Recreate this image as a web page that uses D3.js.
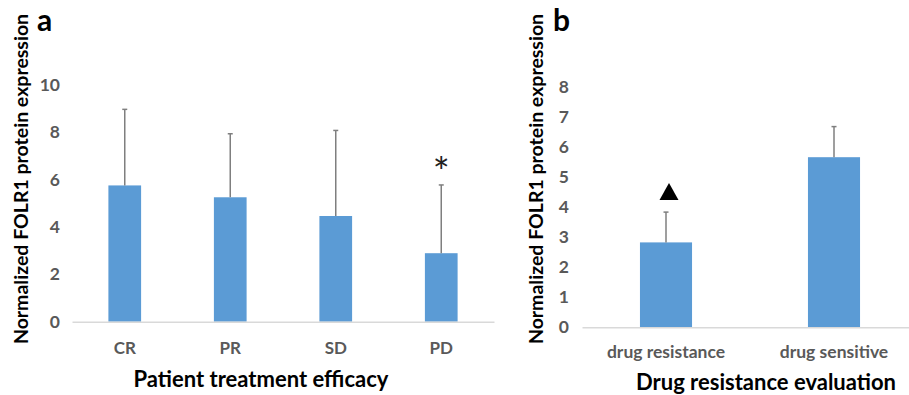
<!DOCTYPE html>
<html>
<head>
<meta charset="utf-8">
<script src="https://cdn.jsdelivr.net/npm/d3@7/dist/d3.min.js"></script>
<style>
  html, body { margin: 0; padding: 0; background: #fff; }
  svg { display: block; }
  text { font-family: Lato, "Open Sans", sans-serif; }
</style>
</head>
<body>
<svg id="chart" width="909" height="395"></svg>
<script>
// Panel a: FOLR1 expression by treatment efficacy
const efficacyCategories = ["CR", "PR", "SD", "PD"];
const efficacyMeans = [5.75, 5.25, 4.46, 2.89];
const efficacyErrors = [3.21, 2.68, 3.61, 2.88];
const efficacyTicks = [0, 2, 4, 6, 8, 10];

// Panel b: FOLR1 expression by drug response
const resistanceCategories = ["drug resistance", "drug sensitive"];
const resistanceMeans = [2.83, 5.67];
const resistanceErrors = [1.01, 1.02];
const resistanceTicks = [0, 1, 2, 3, 4, 5, 6, 7, 8];

const BAR = "#5b9bd5";
const AXIS = "#d9d9d9";
const TICK_TEXT = "#595959";
const ERR = "#7f7f7f";

const svg = d3.select("#chart");

function drawPanel(cfg) {
  const g = svg.append("g");
  const x = d3.scaleBand()
    .domain(cfg.categories)
    .range([cfg.x0, cfg.x1])
    .paddingInner(0.69)
    .paddingOuter(0.345);
  const y = d3.scaleLinear().domain(cfg.yDomain).range([cfg.y0, cfg.yTop]);

  // y tick labels (no axis line, no tick marks)
  const yAxis = d3.axisLeft(y).tickValues(cfg.ticks).tickSize(0).tickPadding(0);
  const ya = g.append("g").attr("transform", `translate(${cfg.tickRight},0)`).call(yAxis);
  ya.select(".domain").remove();
  ya.selectAll("text")
    .attr("fill", TICK_TEXT)
    .attr("font-size", cfg.tickSize)
    .attr("font-weight", "bold")
    .attr("font-family", "Lato, sans-serif");

  // bars
  const data = cfg.categories.map((c, i) => ({ c, v: cfg.means[i], e: cfg.errors[i] }));
  g.selectAll("rect.bar").data(data).join("rect")
    .attr("class", "bar")
    .attr("x", d => x(d.c))
    .attr("width", x.bandwidth())
    .attr("y", d => y(d.v))
    .attr("height", d => y(0) - y(d.v))
    .attr("fill", BAR);

  // upper error bars
  const cx = d => x(d.c) + x.bandwidth() / 2;
  g.selectAll("line.err").data(data).join("line")
    .attr("class", "err")
    .attr("x1", cx).attr("x2", cx)
    .attr("y1", d => y(d.v)).attr("y2", d => y(d.v + d.e))
    .attr("stroke", ERR).attr("stroke-width", 1.5);
  g.selectAll("line.cap").data(data).join("line")
    .attr("class", "cap")
    .attr("x1", d => cx(d) - 2.5).attr("x2", d => cx(d) + 2.5)
    .attr("y1", d => y(d.v + d.e)).attr("y2", d => y(d.v + d.e))
    .attr("stroke", ERR).attr("stroke-width", 1.5);

  // category axis
  const xAxis = d3.axisBottom(x).tickSize(0).tickPadding(0);
  const xa = g.append("g").attr("transform", `translate(0,${cfg.y0})`).call(xAxis);
  xa.select(".domain").attr("stroke", AXIS).attr("stroke-width", 1.5);
  xa.selectAll("text")
    .attr("fill", TICK_TEXT)
    .attr("font-size", cfg.catSize)
    .attr("font-weight", "bold")
    .attr("font-family", "Lato, sans-serif")
    .attr("dy", 0)
    .attr("y", cfg.catBaseline - cfg.y0);

  // axis titles
  g.append("text")
    .attr("x", cfg.xTitleX).attr("y", cfg.xTitleY)
    .attr("text-anchor", "middle")
    .attr("font-size", 22).attr("font-weight", "bold").attr("fill", "#000")
    .text(cfg.xTitle);
  g.append("text")
    .attr("transform", `translate(${cfg.yTitleX},179) rotate(-90)`)
    .attr("text-anchor", "middle")
    .attr("font-size", 19.5).attr("font-weight", "bold").attr("fill", "#000")
    .text("Normalized FOLR1 protein expression");

  // panel letter
  g.append("text")
    .attr("x", cfg.letterX).attr("y", 31)
    .attr("font-family", "'Liberation Sans', Arial, sans-serif")
    .attr("font-size", 30).attr("font-weight", "bold").attr("fill", "#000")
    .text(cfg.letter);

  return { g, x, y, data, cx };
}

const a = drawPanel({
  categories: efficacyCategories, means: efficacyMeans, errors: efficacyErrors,
  ticks: efficacyTicks, yDomain: [0, 10],
  x0: 72, x1: 494, y0: 321.7, yTop: 84.7, tickRight: 60, tickSize: 17.5,
  catSize: 17, catBaseline: 354,
  xTitle: "Patient treatment efficacy", xTitleX: 261, xTitleY: 387,
  yTitleX: 28, letter: "a", letterX: 37
});

const b = drawPanel({
  categories: resistanceCategories, means: resistanceMeans, errors: resistanceErrors,
  ticks: resistanceTicks, yDomain: [0, 8],
  x0: 582, x1: 918, y0: 327.3, yTop: 87.3, tickRight: 569, tickSize: 17.5,
  catSize: 17.5, catBaseline: 358,
  xTitle: "Drug resistance evaluation", xTitleX: 766, xTitleY: 390,
  yTitleX: 543, letter: "b", letterX: 553
});

// significance marker on PD
const pd = a.data[3];
a.g.append("text")
  .attr("x", a.cx(pd)).attr("y", a.y(pd.v + pd.e) + 2)
  .attr("text-anchor", "middle")
  .attr("font-family", "'DejaVu Sans', sans-serif")
  .attr("font-size", 40).attr("fill", "#222")
  .text("*");

// significance marker on drug resistance
const dr = b.data[0];
const tx = b.cx(dr) + 3, tb = b.y(dr.v + dr.e) - 12;
b.g.append("path")
  .attr("d", `M${tx - 9.5},${tb} L${tx + 9.5},${tb} L${tx},${tb - 17} Z`)
  .attr("fill", "#000");
</script>
</body>
</html>
